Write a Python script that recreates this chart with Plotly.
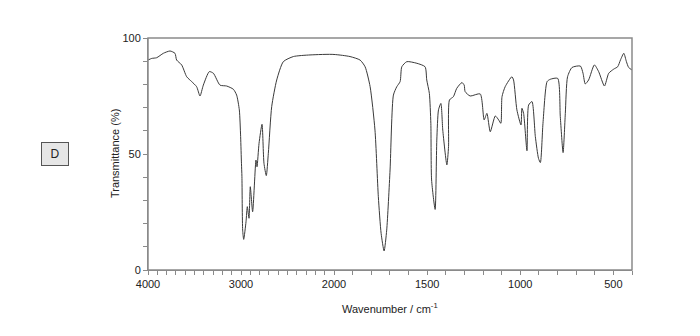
import plotly.graph_objects as go

# IR spectrum (wavenumber in cm-1, transmittance in %)
wavenumber = [4000, 3960, 3907, 3835, 3763, 3710, 3692, 3638, 3584, 3530, 3477, 3441, 3405,
              3341, 3297, 3226, 3154, 3082, 3047, 3018, 3004, 2995, 2990, 2982, 2971, 2946,
              2932, 2914, 2900, 2875, 2839, 2828, 2806, 2774, 2753, 2728, 2706, 2670, 2616,
              2545, 2437, 2258, 2000, 1914, 1860, 1833, 1806, 1780, 1762, 1747, 1731, 1717,
              1699, 1681, 1663, 1645, 1636, 1609, 1555, 1511, 1502, 1488, 1480, 1476, 1457,
              1448, 1439, 1426, 1416, 1394, 1385, 1380, 1359, 1341, 1313, 1301, 1296, 1269,
              1215, 1194, 1179, 1161, 1134, 1116, 1104, 1098, 1081, 1045, 1036, 1018, 996,
              991, 982, 964, 955, 937, 919, 902, 892, 878, 856, 839, 799, 785, 770, 758, 746,
              722, 677, 663, 651, 633, 602, 579, 548, 525, 498, 477, 462, 444, 430, 418, 400]
transmittance = [90.5, 91.2, 91.5, 93.4, 94.4, 93.4, 90.5, 88.4, 83.3, 81.2, 79.0, 75.0, 79.7,
                 85.5, 84.8, 79.7, 79.3, 77.9, 75.4, 69.0, 57.5, 46.0, 40.2, 17.2, 13.2, 20.8,
                 27.3, 22.3, 35.9, 25.1, 47.4, 44.5, 54.6, 62.8, 46.0, 40.7, 50.3, 70.4, 81.9,
                 89.8, 92.0, 92.7, 92.9, 92.0, 90.5, 87.6, 79.0, 60.3, 31.6, 15.8, 8.2, 17.2,
                 43.1, 75.4, 79.0, 81.2, 87.6, 89.8, 89.1, 87.6, 81.9, 76.1, 63.2, 38.8, 26.1,
                 56.0, 69.0, 71.8, 60.3, 45.3, 53.2, 73.3, 74.7, 78.3, 80.8, 79.7, 76.9, 75.0,
                 75.9, 64.7, 67.5, 59.6, 66.4, 64.7, 63.2, 74.7, 79.0, 83.3, 81.9, 69.0, 62.5,
                 69.7, 67.5, 51.4, 71.1, 72.6, 57.5, 48.1, 46.3, 63.2, 81.2, 82.2, 82.6, 66.1,
                 50.6, 67.5, 83.3, 87.3, 87.9, 84.8, 80.2, 81.9, 88.4, 85.5, 79.3, 84.8, 86.6,
                 87.6, 90.5, 93.4, 89.8, 87.3, 86.2]

y_ticks = [0, 50, 100]
x_ticks_high = [4000, 3000, 2000]
x_ticks_low = [1500, 1000, 500]

split = 186 / 484  # 4000-2000 drawn at half the scale of 2000-400

line = dict(color="#3a3a3a", width=1, shape="spline", smoothing=0.6)
fig = go.Figure()
fig.add_trace(go.Scatter(x=wavenumber, y=transmittance, mode="lines", line=line,
                         xaxis="x", yaxis="y", hoverinfo="skip"))
fig.add_trace(go.Scatter(x=wavenumber, y=transmittance, mode="lines", line=line,
                         xaxis="x2", yaxis="y", hoverinfo="skip"))

axis_col = "#8a8a8a"
font_family = "Liberation Sans, Arial, sans-serif"
tickfont = dict(family=font_family, size=11, color="#222")
common_x = dict(showgrid=False, zeroline=False, showline=True, linecolor=axis_col,
                linewidth=1, ticks="outside", ticklen=4, tickcolor=axis_col,
                tickfont=tickfont, anchor="y",
                minor=dict(dtick=100, ticks="outside", ticklen=4, tickcolor=axis_col))

fig.update_layout(
    width=700, height=336,
    margin=dict(l=140, r=76, t=30, b=74),
    paper_bgcolor="white", plot_bgcolor="white",
    showlegend=False,
    xaxis=dict(domain=[0, split], range=[4000, 2000], tickmode="array",
               tickvals=x_ticks_high, ticktext=[str(v) for v in x_ticks_high], **common_x),
    xaxis2=dict(domain=[split, 1], range=[2000, 400], tickmode="array",
                tickvals=x_ticks_low, ticktext=[str(v) for v in x_ticks_low], **common_x),
    yaxis=dict(range=[0, 100], tickmode="array", tickvals=y_ticks,
               showgrid=False, zeroline=False, showline=True, linecolor=axis_col,
               ticks="outside", ticklen=4, tickcolor=axis_col, tickfont=tickfont,
               minor=dict(dtick=10, ticks="outside", ticklen=4, tickcolor=axis_col)),
    shapes=[dict(type="rect", xref="paper", yref="paper", x0=0, x1=1, y0=0, y1=1,
                 line=dict(color=axis_col, width=1.5), layer="above")],
    annotations=[
        dict(text="Transmittance (%)", xref="paper", yref="paper", x=-0.068, y=0.5,
             textangle=-90, showarrow=False, xanchor="center", yanchor="middle",
             font=dict(family=font_family, size=11, color="#222")),
        dict(text="Wavenumber / cm<sup>-1</sup>", xref="paper", yref="paper", x=0.5, y=-0.164,
             showarrow=False, xanchor="center", yanchor="middle",
             font=dict(family=font_family, size=11, color="#222")),
        dict(text="D", xref="paper", yref="paper", x=-0.192, y=0.5, showarrow=False,
             xanchor="center", yanchor="middle", width=26, height=22, borderpad=0,
             bordercolor="#555", borderwidth=1, bgcolor="#e6e6e6",
             font=dict(family=font_family, size=12, color="#222")),
    ],
)

fig.write_html("out.html")
